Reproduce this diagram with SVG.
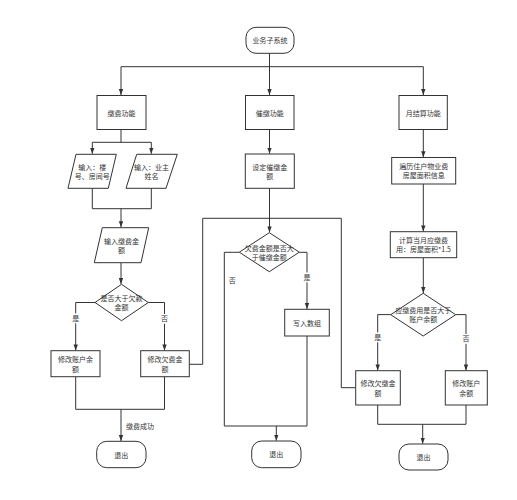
<svg xmlns="http://www.w3.org/2000/svg" width="517" height="500" viewBox="0 0 517 500">
<style>
.n{fill:#fff;stroke:#333;stroke-width:1}
.c{fill:none;stroke:#333;stroke-width:1}
text{font-family:"Noto Sans CJK SC","Liberation Sans",sans-serif;font-size:7px;fill:#333;text-anchor:middle;dominant-baseline:central}
.l{paint-order:stroke;stroke:#fff;stroke-width:3px}
</style>
<defs>
<marker id="a" markerUnits="userSpaceOnUse" markerWidth="7" markerHeight="5" refX="6" refY="2.2" orient="auto">
<path d="M0,0 L6,2.2 L0,4.4 z" fill="#333"/>
</marker>
</defs>
<rect width="517" height="500" fill="#fff"/>
<g id="connectors">
<path class="c" d="M269.5,53 V95" marker-end="url(#a)"/>
<path class="c" d="M269.5,66.7 H121 V95" marker-end="url(#a)"/>
<path class="c" d="M269.5,66.7 H423.3 V95" marker-end="url(#a)"/>
<path class="c" d="M121,129.5 V142.3 H92.3 V153.8" marker-end="url(#a)"/>
<path class="c" d="M121,142.3 H151.3 V153.8" marker-end="url(#a)"/>
<path class="c" d="M92.3,188.3 V208.7 H151.3 V188.3"/>
<path class="c" d="M121,208.7 V227.2" marker-end="url(#a)"/>
<path class="c" d="M121,262.7 V284" marker-end="url(#a)"/>
<path class="c" d="M95,302.5 H75.7 V350.4" marker-end="url(#a)"/>
<path class="c" d="M148.3,302.5 H164.5 V350.4" marker-end="url(#a)"/>
<path class="c" d="M75.7,376.7 V409.3 H164.5 V376.7"/>
<path class="c" d="M121,409.3 V441" marker-end="url(#a)"/>
<path class="c" d="M189.3,364.3 H202.7 V218.3 H341.3 V387.7 H355.7"/>
<path class="c" d="M269.5,129.5 V153.7" marker-end="url(#a)"/>
<path class="c" d="M269.5,188.3 V232.4" marker-end="url(#a)"/>
<path class="c" d="M239.3,252.3 H224.3 V426 H307 V336"/>
<path class="c" d="M299.3,252.3 H307 V309" marker-end="url(#a)"/>
<path class="c" d="M276.3,426 V440.7" marker-end="url(#a)"/>
<path class="c" d="M423.3,129.5 V157.2" marker-end="url(#a)"/>
<path class="c" d="M423.3,184 V231.4" marker-end="url(#a)"/>
<path class="c" d="M423.3,257.7 V293" marker-end="url(#a)"/>
<path class="c" d="M390.7,314.6 H377.7 V370.4" marker-end="url(#a)"/>
<path class="c" d="M455.7,314.6 H466 V370.4" marker-end="url(#a)"/>
<path class="c" d="M377.7,405 V424.3 H466 V405"/>
<path class="c" d="M422.7,424.3 V443.7" marker-end="url(#a)"/>
<text class="l" x="75.7" y="317.7">是</text>
<text class="l" x="164.5" y="318">否</text>
<text class="l" x="232.3" y="280">否</text>
<text class="l" x="307" y="277.3">是</text>
<text class="l" x="377.7" y="336.7">是</text>
<text class="l" x="466" y="338">否</text>
<text class="l" x="140" y="426.3">缴费成功</text>
</g>
<g id="start"><rect class="n" x="246" y="27.3" width="48" height="26" rx="10"/><text x="270" y="40.3">业务子系统</text></g>
<g id="pay"><rect class="n" x="97" y="95.5" width="49" height="34"/><text x="121.5" y="112.5">缴费功能</text></g>
<g id="remind"><rect class="n" x="245.5" y="95.5" width="48.5" height="34"/><text x="269.7" y="112.5">催缴功能</text></g>
<g id="month"><rect class="n" x="399" y="95.5" width="48.3" height="34"/><text x="423.2" y="112.5">月结算功能</text></g>
<g id="in1"><polygon class="n" points="76,154.3 116.3,154.3 108.3,188.3 68,188.3"/><text x="92.2" y="166.5">输入：楼</text><text x="92.2" y="176">号、房间号</text></g>
<g id="in2"><polygon class="n" points="136.7,154.3 177.3,154.3 166,188.3 126,188.3"/><text x="151.5" y="166.5">输入：业主</text><text x="151.5" y="176">姓名</text></g>
<g id="in3"><polygon class="n" points="102.3,227.7 148.7,227.7 141,262.7 94.3,262.7"/><text x="121.5" y="240.5">输入缴费金</text><text x="121.5" y="250">额</text></g>
<g id="d1"><polygon class="n" points="121.5,284.3 148.3,302.5 121.5,320.7 95,302.5"/><text x="121.5" y="298">是否大于欠款</text><text x="121.5" y="307.3">金额</text></g>
<g id="acc1"><rect class="n" x="51" y="350.7" width="49" height="26"/><text x="75.5" y="359.2">修改账户余</text><text x="75.5" y="368.5">额</text></g>
<g id="arr1"><rect class="n" x="140.7" y="350.7" width="48.6" height="26"/><text x="165" y="359.2">修改欠费金</text><text x="165" y="368.5">额</text></g>
<g id="exit1"><rect class="n" x="96.7" y="441.3" width="49.3" height="26.4" rx="10"/><text x="121.3" y="454.5">退出</text></g>
<g id="set"><rect class="n" x="245.3" y="154" width="49" height="34.3"/><text x="269.8" y="166.5">设定催缴金</text><text x="269.8" y="176">额</text></g>
<g id="d2"><polygon class="n" points="269.3,232.7 299.3,252.2 269.3,271.7 239.3,252.2"/><text x="269.3" y="247.5">欠费金额是否大</text><text x="269.3" y="256.8">于催缴金额</text></g>
<g id="write"><rect class="n" x="284.7" y="309.3" width="44.6" height="26.7"/><text x="307" y="322.7">写入数组</text></g>
<g id="exit2"><rect class="n" x="251.7" y="441" width="49.3" height="26.7" rx="10"/><text x="276.3" y="454.3">退出</text></g>
<g id="traverse"><rect class="n" x="391.7" y="157.5" width="64" height="26.5"/><text x="423.7" y="166">遍历住户物业费</text><text x="423.7" y="175.3">房屋面积信息</text></g>
<g id="calc"><rect class="n" x="390.3" y="231.7" width="66.4" height="26"/><text x="423.5" y="240">计算当月应缴费</text><text x="423.5" y="249.3">用：房屋面积*1.5</text></g>
<g id="d3"><polygon class="n" points="423.2,293.3 455.7,314.7 423.2,336 390.7,314.7"/><text x="423.2" y="310">应缴费用是否大于</text><text x="423.2" y="319.3">账户余额</text></g>
<g id="arr2"><rect class="n" x="355.7" y="370.7" width="44.6" height="34.3"/><text x="378" y="383.2">修改欠缴金</text><text x="378" y="392.5">额</text></g>
<g id="acc2"><rect class="n" x="445.3" y="370.7" width="42" height="34.3"/><text x="466.3" y="383.2">修改账户</text><text x="466.3" y="392.5">余额</text></g>
<g id="exit3"><rect class="n" x="399" y="444" width="49" height="26" rx="10"/><text x="423.5" y="457">退出</text></g>
</svg>
